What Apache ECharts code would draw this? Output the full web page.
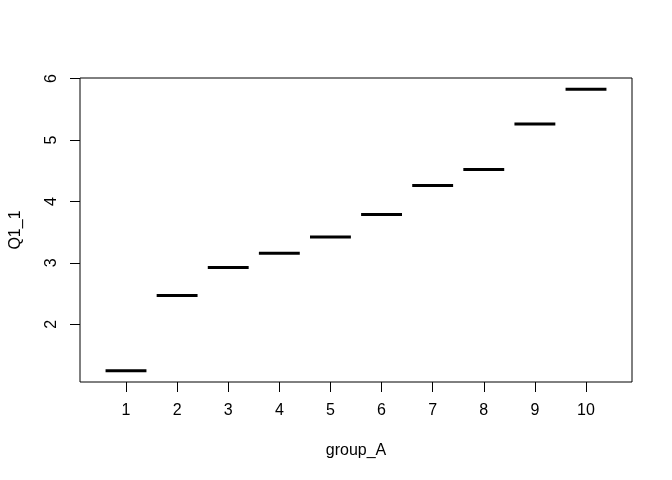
<!DOCTYPE html>
<html>
<head>
<meta charset="utf-8">
<script src="https://cdn.jsdelivr.net/npm/echarts@6/dist/echarts.min.js"></script>
<style>
html,body{margin:0;padding:0;background:#fff;}
#chart{width:672px;height:480px;}
</style>
</head>
<body>
<div id="chart"></div>
<script>
const groups = [1, 2, 3, 4, 5, 6, 7, 8, 9, 10];
const medians = [1.245, 2.468, 2.924, 3.158, 3.419, 3.788, 4.261, 4.522, 5.26, 5.827];
const yTicks = [2, 3, 4, 5, 6];
const xName = 'group_A';
const yName = 'Q1_1';

const seriesData = groups.map((g, i) => [g, medians[i]]);
const font = 'Liberation Sans, Arial, sans-serif';

const chart = echarts.init(document.getElementById('chart'), null, {renderer: 'canvas'});
chart.setOption({
  animation: false,
  backgroundColor: '#ffffff',
  grid: {left: 78, right: 40, top: 78, bottom: 98, show: true, borderColor: '#000', borderWidth: 1, backgroundColor: 'transparent'},
  xAxis: {
    type: 'value', min: 0.1, max: 10.9,
    name: xName, nameLocation: 'middle', nameGap: 61,
    nameTextStyle: {color: '#000', fontSize: 16, fontFamily: font},
    axisLine: {show: false},
    splitLine: {show: false},
    axisTick: {show: true, length: 10, lineStyle: {color: '#000'}, customValues: groups},
    axisLabel: {color: '#000', fontSize: 16, fontFamily: font, margin: 21, customValues: groups, formatter: v => String(v)}
  },
  yAxis: {
    type: 'value', min: 1.06, max: 6.01,
    name: yName, nameLocation: 'middle', nameGap: 56, nameRotate: 90,
    nameTextStyle: {color: '#000', fontSize: 16, fontFamily: font},
    axisLine: {show: false},
    splitLine: {show: false},
    axisTick: {show: true, length: 10, lineStyle: {color: '#000'}, customValues: yTicks},
    axisLabel: {color: '#000', fontSize: 16, fontFamily: font, margin: 20, rotate: 90, customValues: yTicks, formatter: v => String(v)}
  },
  series: [{
    type: 'custom',
    data: seriesData,
    renderItem: function (params, api) {
      const x = api.value(0), y = api.value(1);
      const p1 = api.coord([x - 0.4, y]);
      const p2 = api.coord([x + 0.4, y]);
      return {type: 'line', shape: {x1: p1[0], y1: p1[1], x2: p2[0], y2: p2[1]}, style: {stroke: '#000', lineWidth: 3, lineCap: 'butt'}};
    }
  }]
});
</script>
</body>
</html>
